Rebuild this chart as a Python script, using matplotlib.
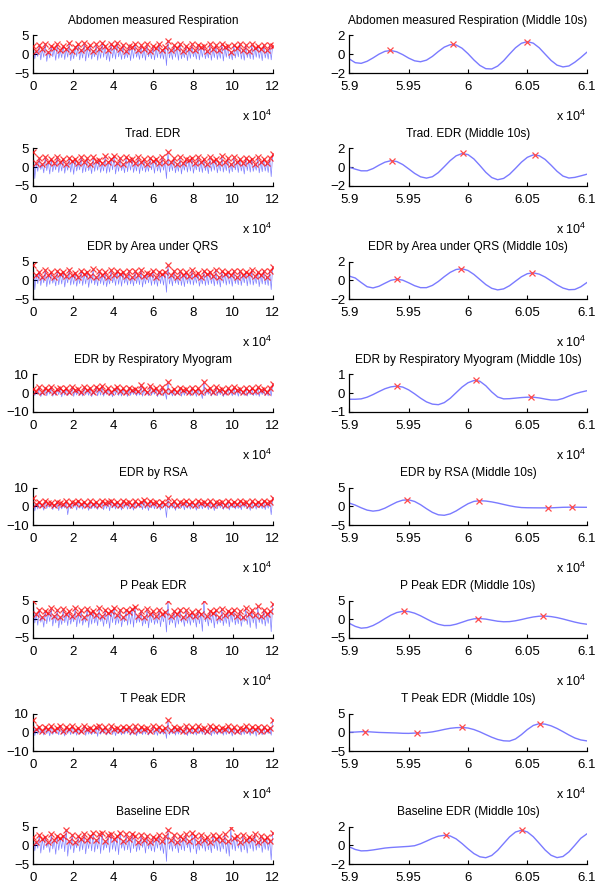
import numpy as np
import matplotlib
matplotlib.use("Agg")
import matplotlib.pyplot as plt

plt.rcParams['font.family'] = ['Liberation Sans', 'DejaVu Sans']

# ---------------- data ----------------
TITLES = ["Abdomen measured Respiration", "Trad. EDR", "EDR by Area under QRS",
          "EDR by Respiratory Myogram", "EDR by RSA", "P Peak EDR", "T Peak EDR",
          "Baseline EDR"]
YLIM_FULL = [5, 5, 5, 10, 10, 5, 10, 5]
YLIM_MID = [2, 2, 2, 1, 5, 5, 5, 2]
FULL_LEN = 120000
FULL_TICKS = [0, 20000, 40000, 60000, 80000, 100000, 120000]
FULL_TICKLABELS = ["0", "2", "4", "6", "8", "10", "12"]
MID_START, MID_END, MID_STEP = 59000, 61000, 50
MID_TICKS = [59000, 59500, 60000, 60500, 61000]
MID_TICKLABELS = ["5.9", "5.95", "6", "6.05", "6.1"]

# full recordings: detected peaks (red x) and troughs between them
ABD_PK = [2.2,0.9,2.5,1.3,2.8,0.7,2.1,1.6,2.6,1.0, 2.3,1.4,2.9,0.8,2.0,2.6,1.2,3.0,1.7,2.4,
          0.9,2.7,1.5,3.1,2.2,1.1,2.8,1.8,3.0,1.3, 2.5,0.8,2.3,1.9,2.7,1.0,2.4,1.5,2.6,0.9,
          2.2,1.6,2.8,1.2,2.0,3.6,1.1,2.4,1.7,2.7, 0.8,2.3,1.4,2.6,1.0,2.5,1.8,2.2,0.9,2.6,
          1.5,2.4,1.1,2.8,1.9,2.3,0.7,2.5,1.6,2.7, 1.2,2.4,0.9,2.6,1.7,2.2,1.3,2.5,1.0,2.4, 2.3]
ABD_TR = [-1.2,-0.6,-1.5,-0.8,-1.9,-1.0,-0.7,-1.6,-1.1,-0.9, -1.4,-0.8,-1.7,-1.2,-0.6,-1.5,-1.0,-1.8,-0.9,-1.3,
          -0.7,-1.6,-1.1,-0.8,-1.5,-1.9,-1.0,-1.3,-0.7,-1.4, -1.2,-0.9,-1.7,-1.1,-0.8,-1.4,-1.0,-1.6,-0.7,-1.2,
          -1.5,-0.9,-1.1,-1.3,-3.0,-1.0,-1.4,-0.8,-1.6,-1.2, -0.9,-1.7,-1.1,-0.7,-1.3,-1.5,-0.8,-1.2,-1.0,-1.6,
          -0.9,-1.4,-1.1,-1.8,-0.8,-1.2,-1.5,-1.0,-0.7,-1.3, -1.6,-0.9,-1.2,-1.4,-0.8,-1.1,-1.7,-1.0,-1.3,-1.5]
TRD_PK = [4.0,1.2,2.4,0.8,2.6,1.5,2.2,1.0,2.8,1.4, 2.3,0.9,2.5,1.7,2.1,1.1,2.7,1.3,2.4,0.8,
          2.6,1.6,2.0,1.0,2.9,1.4,2.2,3.0,1.2,2.5, 0.9,2.7,1.8,2.3,1.1,2.6,1.4,2.1,0.8,2.5,
          1.6,2.3,1.0,2.7,1.3,4.0,1.5,2.4,0.9,2.6, 1.2,2.2,1.8,2.5,1.0,2.8,1.4,2.3,0.8,2.6,
          1.7,2.1,1.1,2.9,1.3,2.4,0.9,2.6,1.5,2.2, 1.0,2.5,1.7,2.3,0.8,2.7,1.4,2.2,1.1,2.4, 3.5]
TRD_TR = [-3.0,-1.1,-0.6,-1.5,-0.9,-1.8,-1.2,-0.7,-1.4,-1.0, -1.6,-0.8,-1.3,-1.9,-1.0,-0.7,-1.5,-1.2,-0.9,-1.7,
          -1.1,-0.8,-1.4,-1.0,-1.6,-1.3,-0.7,-1.8,-1.1,-0.9, -1.5,-1.2,-0.8,-1.4,-1.0,-1.7,-0.9,-1.3,-1.1,-0.7,
          -1.6,-1.0,-1.4,-0.8,-3.0,-1.2,-0.9,-1.5,-1.1,-1.8, -0.8,-1.3,-1.0,-1.6,-0.7,-1.2,-1.4,-0.9,-1.7,-1.1,
          -0.8,-1.5,-1.0,-1.3,-0.9,-1.6,-1.2,-0.7,-1.4,-1.0, -1.8,-0.9,-1.3,-1.1,-0.8,-1.5,-1.2,-1.0,-1.4,-2.5]
QRS_PK = [4.2,1.5,2.3,1.0,2.7,1.3,2.1,0.8,2.5,1.7, 2.2,1.1,2.8,1.4,2.0,0.9,2.6,1.6,2.3,1.2,
          2.9,1.0,2.4,1.5,2.1,0.8,2.7,1.3,2.5,1.8, 2.2,1.1,2.6,0.9,2.4,1.4,2.8,1.2,2.0,1.6,
          2.5,1.0,2.3,1.7,2.1,4.0,1.3,2.6,0.9,2.4, 1.5,2.2,1.1,2.7,1.4,2.0,0.8,2.5,1.6,2.3,
          1.2,2.8,1.0,2.4,1.7,2.1,1.3,2.6,0.9,2.5, 1.4,2.2,1.8,2.7,1.1,2.3,1.5,2.6,1.0,2.4, 3.6]
QRS_TR = [-2.5,-0.9,-1.4,-0.7,-1.7,-1.1,-0.8,-1.5,-1.2,-1.0, -1.8,-0.7,-1.3,-1.1,-1.6,-0.9,-1.4,-1.0,-1.9,-0.8,
          -1.2,-1.5,-0.9,-1.3,-1.7,-1.0,-0.7,-1.4,-1.1,-1.6, -0.8,-1.3,-1.0,-1.5,-0.9,-1.2,-1.8,-1.0,-0.7,-1.4,
          -1.1,-1.6,-0.9,-1.3,-3.2,-1.0,-1.5,-0.8,-1.2,-1.4, -1.7,-0.9,-1.1,-1.3,-0.8,-1.6,-1.0,-1.4,-1.2,-0.9,
          -1.5,-1.1,-1.8,-0.8,-1.3,-1.0,-1.6,-0.9,-1.2,-1.4, -0.7,-1.5,-1.1,-1.3,-0.9,-1.7,-1.0,-1.2,-1.4,-2.5]
RM_PK = [2.5,1.0,3.2,0.4,2.8,1.6,3.5,0.8,2.2,3.0, 1.3,2.7,0.6,3.3,1.9,2.4,0.9,3.1,1.5,2.6,
         0.7,3.4,2.0,3.8,1.2,2.9,0.5,2.3,3.2,1.4, 2.7,0.8,3.0,1.8,2.5,1.1,4.4,2.2,0.9,4.0,
         1.6,2.8,0.6,3.1,1.4,6.0,1.0,2.4,0.5,2.9, 1.7,2.2,0.8,3.0,1.3,2.6,0.4,6.0,1.9,2.7,
         0.9,3.2,1.5,2.3,0.7,2.8,1.2,3.1,1.8,2.5, 0.6,3.0,1.4,2.7,1.0,3.3,1.6,2.4,0.8,2.9, 5.0]
RM_TR = [-1.2,-0.6,-1.8,-0.9,-1.4,-0.5,-1.6,-1.1,-0.7,-1.9, -1.0,-1.3,-0.6,-1.7,-0.9,-1.2,-1.5,-0.8,-1.1,-1.8,
         -0.7,-1.4,-1.0,-1.6,-0.6,-1.3,-1.9,-0.8,-1.2,-1.5, -0.9,-1.7,-1.1,-0.7,-1.4,-1.0,-1.6,-0.8,-1.3,-1.1,
         -0.6,-1.8,-1.0,-1.4,-3.2,-0.9,-1.5,-1.2,-0.7,-1.6, -1.1,-0.8,-1.4,-1.0,-1.7,-0.9,-2.8,-1.2,-0.6,-1.5,
         -1.0,-1.3,-0.8,-1.8,-1.1,-0.7,-1.4,-1.0,-1.6,-0.9, -1.2,-1.5,-0.8,-1.3,-1.1,-1.7,-0.7,-1.2,-1.4,-1.5]
RSA_PK = [4.6,1.2,2.3,0.6,2.8,1.5,2.0,0.9,2.5,1.8, 1.1,2.6,0.7,2.2,1.6,2.9,1.0,2.4,0.5,2.7,
          1.4,2.1,0.8,2.6,1.7,2.3,3.0,1.2,2.5,0.9, 2.8,1.5,2.2,0.6,2.7,1.3,2.4,3.1,1.0,2.6,
          1.8,2.3,0.7,2.5,1.4,4.3,1.1,2.7,0.8,2.4, 1.6,2.9,1.0,2.2,0.6,2.6,1.5,2.3,1.2,2.8,
          0.9,2.5,1.7,2.1,0.7,2.7,1.3,2.4,1.0,2.6, 1.8,2.2,0.8,2.9,1.4,2.5,1.1,3.0,1.6,2.3, 4.6]
RSA_TR = [-2.5,-1.5,-0.8,-2.1,-1.2,-0.6,-1.8,-1.0,-2.3,-1.4, -0.9,-4.5,-1.3,-0.7,-2.0,-1.1,-1.6,-0.8,-2.2,-1.3,
          -1.0,-1.7,-0.6,-1.9,-1.2,-2.4,-0.9,-1.5,-1.1,-2.0, -0.7,-1.6,-1.3,-2.1,-1.0,-0.8,-1.8,-1.2,-2.3,-0.9,
          -1.4,-1.1,-2.0,-0.7,-6.0,-1.5,-1.0,-2.2,-1.3,-0.8, -1.9,-1.1,-1.6,-0.9,-2.1,-1.2,-1.4,-0.7,-1.8,-1.0,
          -2.3,-1.3,-0.9,-1.7,-1.1,-2.0,-0.8,-1.5,-1.2,-1.9, -0.6,-1.4,-2.2,-1.0,-1.6,-0.9,-1.3,-1.8,-1.1,-4.5]
PP_PK = [5.0,1.4,2.6,0.7,2.2,1.8,2.9,1.0,2.4,0.6, 2.7,1.5,2.1,0.9,3.0,1.3,2.5,0.5,2.8,1.7,
         2.3,1.1,2.9,0.8,2.5,1.6,2.2,3.1,1.2,2.6, 0.7,2.4,1.9,2.8,3.2,1.0,2.3,0.6,2.7,1.4,
         2.1,0.9,2.5,1.3,2.0,4.9,0.8,2.2,1.5,2.6, 0.7,2.4,1.1,2.0,0.9,2.3,1.4,4.9,0.8,2.1,
         1.6,2.5,0.6,2.8,1.2,2.3,1.8,2.6,1.0,2.2, 0.7,2.9,1.5,2.4,1.1,3.5,0.9,2.5,1.3,2.2, 4.1]
PP_TR = [-1.0,-1.6,-0.8,-2.1,-1.2,-0.6,-1.8,-1.0,-2.3,-1.4, -0.9,-1.7,-1.3,-0.7,-2.0,-1.1,-1.6,-0.8,-2.2,-1.3,
         -1.0,-1.7,-0.6,-1.9,-1.2,-2.4,-0.9,-1.5,-1.1,-2.0, -0.7,-1.6,-1.3,-2.1,-1.0,-0.8,-1.8,-1.2,-2.3,-0.9,
         -1.4,-1.1,-2.0,-0.7,-3.4,-1.5,-1.0,-2.2,-1.3,-0.8, -1.9,-1.1,-1.6,-0.9,-2.1,-1.2,-3.2,-0.7,-1.8,-1.0,
         -2.3,-1.3,-0.9,-1.7,-1.1,-2.0,-0.8,-1.5,-1.2,-1.9, -0.6,-1.4,-2.2,-1.0,-2.5,-0.9,-1.3,-1.8,-1.1,-3.3]
TP_PK = [6.4,1.8,3.0,0.9,2.6,1.5,3.3,1.1,2.4,3.6, 0.8,2.8,1.7,3.1,1.2,2.5,0.7,3.4,1.9,2.2,
         1.0,2.9,3.5,1.4,2.7,0.8,3.2,1.6,2.4,1.1, 3.0,1.9,2.6,0.9,3.3,1.3,2.8,1.7,2.3,0.8,
         3.1,1.5,2.7,1.0,2.4,6.4,1.2,3.0,1.8,2.5, 0.9,3.4,1.4,2.6,1.1,3.2,1.7,2.3,0.8,3.6,
         1.5,2.8,1.0,2.5,1.9,3.1,1.2,2.7,0.9,2.4, 1.6,3.3,1.1,2.6,1.8,2.9,0.8,3.0,1.4,2.5, 6.4]
TP_TR = [-1.8,-1.0,-0.5,-1.5,-0.8,-1.9,-1.2,-0.6,-1.4,-1.0, -2.0,-0.7,-1.3,-0.9,-1.6,-1.1,-0.5,-1.7,-1.0,-1.3,
         -0.8,-2.2,-1.1,-0.6,-1.5,-0.9,-1.2,-1.8,-0.7,-1.4, -1.0,-0.6,-1.6,-1.1,-1.9,-0.8,-1.3,-1.0,-1.5,-0.7,
         -1.2,-1.7,-0.9,-1.1,-3.3,-1.4,-0.8,-1.6,-1.0,-0.6, -1.3,-1.8,-0.9,-1.2,-1.5,-0.7,-1.1,-1.4,-0.8,-1.9,
         -1.0,-1.3,-0.6,-1.6,-1.2,-0.9,-2.0,-1.1,-0.7,-1.5, -1.2,-0.8,-1.7,-1.0,-2.1,-0.9,-1.4,-1.1,-0.7,-1.6]
BL_PK = [2.2,1.0,2.7,1.6,2.3,0.8,2.9,1.4,2.5,1.9, 2.6,4.1,1.2,2.8,0.9,2.4,1.7,3.0,1.3,2.6,
         3.2,1.5,2.9,3.3,1.1,2.7,3.1,1.8,2.5,3.4, 1.2,2.9,1.6,3.1,2.4,1.0,2.8,1.5,2.6,0.8,
         2.3,1.7,2.7,1.1,2.4,4.1,1.4,2.8,0.9,2.5, 1.8,2.9,1.2,3.2,2.6,1.0,2.7,1.5,2.3,0.9,
         2.8,1.6,2.4,1.3,2.9,1.1,4.5,1.9,2.5,0.8, 2.7,1.4,2.3,1.7,2.9,1.0,2.6,1.5,2.2,1.2, 3.4]
BL_TR = [-1.5,-0.8,-2.1,-1.2,-0.6,-1.9,-1.0,-2.4,-1.3,-0.9, -1.7,-2.9,-1.1,-2.0,-0.7,-1.6,-1.2,-2.3,-0.9,-1.5,
         -1.8,-1.0,-2.2,-1.3,-0.7,-1.9,-1.1,-1.6,-2.5,-0.8, -1.4,-1.2,-2.0,-0.9,-1.7,-1.3,-0.6,-2.1,-1.0,-1.5,
         -1.8,-0.8,-1.4,-2.2,-4.3,-1.1,-1.6,-0.9,-2.0,-1.2, -1.5,-0.7,-1.9,-1.0,-2.3,-1.3,-0.8,-1.6,-1.2,-2.0,
         -0.9,-1.4,-1.7,-1.0,-2.2,-2.9,-1.1,-1.5,-0.8,-1.8, -1.2,-2.1,-0.9,-1.6,-1.3,-0.7,-1.9,-1.1,-1.4,-3.9]

# middle 10 s (one value every 50 samples from 59000 to 61000)
ABD_M = [-0.5,-0.9,-0.97,-0.75,-0.39,0.01,0.31,0.4,0.26,-0.04,-0.41,-0.7,-0.8,-0.63,-0.23,0.29,0.76,1.02,
         0.99,0.64,0.06,-0.61,-1.19,-1.54,-1.57,-1.26,-0.69,0.02,0.69,1.17,1.35,1.18,0.69,0.01,-0.66,-1.16,
         -1.35,-1.25,-0.85,-0.35,0.2]
TRD_M = [0.0,-0.2,-0.38,-0.38,-0.14,0.22,0.54,0.7,0.61,0.29,-0.17,-0.65,-1.02,-1.16,-1.01,-0.57,0.06,0.71,
         1.22,1.46,1.35,0.88,0.19,-0.54,-1.1,-1.33,-1.19,-0.75,-0.12,0.54,1.06,1.32,1.23,0.83,0.22,-0.43,
         -0.94,-1.15,-1.08,-0.92,-0.75]
QRS_M = [0.44,0.24,-0.24,-0.69,-0.82,-0.64,-0.32,-0.01,0.12,0.01,-0.27,-0.58,-0.79,-0.79,-0.55,-0.13,0.38,
         0.84,1.15,1.23,1.04,0.62,0.08,-0.46,-0.86,-1.03,-0.92,-0.58,-0.1,0.37,0.7,0.79,0.65,0.34,-0.07,
         -0.49,-0.83,-1.01,-0.98,-0.7,-0.26]
RM_M = [-0.32,-0.32,-0.3,-0.21,-0.07,0.09,0.24,0.34,0.38,0.33,0.18,-0.03,-0.26,-0.46,-0.58,-0.61,-0.5,-0.27,
        0.03,0.33,0.56,0.68,0.64,0.4,0.07,-0.2,-0.3,-0.29,-0.26,-0.23,-0.21,-0.21,-0.25,-0.31,-0.36,-0.36,
        -0.28,-0.15,-0.03,0.06,0.13]
RSA_M = [0.85,0.31,-0.41,-1.03,-1.3,-1.1,-0.51,0.31,1.1,1.62,1.71,1.28,0.42,-0.65,-1.63,-2.28,-2.41,-2.03,
         -1.25,-0.26,0.67,1.3,1.48,1.39,1.16,0.85,0.48,0.13,-0.16,-0.35,-0.4,-0.42,-0.43,-0.43,-0.42,-0.35,
         -0.28,-0.25,-0.25,-0.27,-0.28]
PP_M = [-1.1,-1.9,-2.38,-2.23,-1.67,-0.83,0.16,1.08,1.78,2.12,2.05,1.62,0.93,0.1,-0.71,-1.34,-1.68,-1.66,
        -1.32,-0.8,-0.26,0.11,0.19,0.04,-0.25,-0.53,-0.67,-0.63,-0.41,-0.08,0.29,0.61,0.81,0.84,0.71,0.44,
        0.07,-0.35,-0.76,-1.1,-1.32]
TP_M = [0.0,0.05,0.15,0.15,0.05,-0.05,-0.1,-0.15,-0.2,-0.28,-0.3,-0.22,-0.2,-0.1,0.1,0.4,0.75,1.05,1.22,
        1.27,1.13,0.72,0.11,-0.62,-1.33,-1.92,-2.28,-2.35,-1.79,-0.64,0.72,1.81,2.29,2.16,1.71,1.01,0.16,
        -0.73,-1.53,-2.05,-2.3]
BL_M = [-0.17,-0.45,-0.6,-0.58,-0.5,-0.4,-0.3,-0.24,-0.2,-0.16,-0.12,-0.05,0.16,0.44,0.73,0.96,1.06,0.99,
        0.68,0.18,-0.38,-0.89,-1.23,-1.33,-1.09,-0.54,0.18,0.89,1.41,1.6,1.42,0.91,0.21,-0.51,-1.07,-1.32,
        -1.2,-0.71,0.0,0.74,1.2]

# detected peaks in the middle 10 s (sample index, value)
ABD_MX, ABD_MY = [59345, 59871, 60501], [0.4, 1.05, 1.35]
TRD_MX, TRD_MY = [59359, 59961, 60563], [0.7, 1.47, 1.33]
QRS_MX, QRS_MY = [59401, 59941, 60541], [0.12, 1.23, 0.79]
RM_MX, RM_MY = [59401, 60067, 60529], [0.38, 0.69, -0.21]
RSA_MX, RSA_MY = [59485, 60092, 60675, 60879], [1.74, 1.48, -0.43, -0.26]
PP_MX, PP_MY = [59465, 60087, 60633], [2.14, 0.2, 0.85]
TP_MX, TP_MY = [59129, 59574, 59952, 60605], [0.17, -0.2, 1.27, 2.29]
BL_MX, BL_MY = [59812, 60451], [1.07, 1.6]

FULL_PK = [ABD_PK, TRD_PK, QRS_PK, RM_PK, RSA_PK, PP_PK, TP_PK, BL_PK]
FULL_TR = [ABD_TR, TRD_TR, QRS_TR, RM_TR, RSA_TR, PP_TR, TP_TR, BL_TR]
MID = [ABD_M, TRD_M, QRS_M, RM_M, RSA_M, PP_M, TP_M, BL_M]
MID_MX = [ABD_MX, TRD_MX, QRS_MX, RM_MX, RSA_MX, PP_MX, TP_MX, BL_MX]
MID_MY = [ABD_MY, TRD_MY, QRS_MY, RM_MY, RSA_MY, PP_MY, TP_MY, BL_MY]

# ---------------- drawing ----------------
W, H = 597, 888
fig = plt.figure(figsize=(W / 100, H / 100), dpi=100)

LX0, LX1 = 33.3, 272.7
RX0, RX1 = 349.3, 586.7
TOP0, PITCH, AH = 35.5, 113.0, 37.5
TICK_FS = 9.5
TITLE_FS = 8.6


def style(ax, lim, ticks, labels, xlim, show_exp):
    ax.set_xlim(*xlim)
    ax.set_ylim(-lim, lim)
    ax.set_yticks([-lim, 0, lim])
    ax.set_yticklabels([str(-lim).replace('-', '\u2212'), "0", str(lim)])
    ax.set_xticks(ticks)
    ax.set_xticklabels(labels)
    for s in ("top", "right"):
        ax.spines[s].set_visible(False)
    for s in ("left", "bottom"):
        ax.spines[s].set_linewidth(0.9)
    ax.tick_params(direction="in", length=3, width=0.8, labelsize=TICK_FS)
    ax.tick_params(axis="x", pad=6)
    ax.tick_params(axis="y", pad=3)
    if show_exp:
        ax.text(1.0, -1.15, r"x $\mathregular{10^{4}}$", transform=ax.transAxes,
                ha="right", va="center", fontsize=9)


for i in range(8):
    top = TOP0 + PITCH * i
    bottom = 1 - (top + AH) / H
    axL = fig.add_axes([LX0 / W, bottom, (LX1 - LX0) / W, AH / H])
    axR = fig.add_axes([RX0 / W, bottom, (RX1 - RX0) / W, AH / H])
    show_exp = i < 7  # the last row's exponent label falls below the figure

    pk, tr = FULL_PK[i], FULL_TR[i]
    assert len(tr) == len(pk) - 1, (i, len(pk), len(tr))
    y = np.empty(len(pk) + len(tr))
    y[0::2] = pk
    y[1::2] = tr
    x = np.linspace(0, FULL_LEN, len(y))
    axL.plot(x, y, color="blue", lw=0.5, alpha=0.5, zorder=2)
    axL.plot(x[0::2], pk, ls="none", marker="x", color="red", ms=4.5, mew=0.9,
             alpha=0.75, zorder=3)
    style(axL, YLIM_FULL[i], FULL_TICKS, FULL_TICKLABELS, (0, FULL_LEN), show_exp)
    axL.set_title(TITLES[i], fontsize=TITLE_FS, pad=8.5)

    ym = MID[i]
    xm = np.arange(MID_START, MID_END + 1, MID_STEP)
    assert len(xm) == len(ym), (i, len(ym))
    axR.plot(xm, ym, color="#7a7aff", lw=1.0, zorder=2)
    axR.plot(MID_MX[i], MID_MY[i], ls="none", marker="x", color="#ff4a4a",
             ms=5, mew=0.9, zorder=3)
    style(axR, YLIM_MID[i], MID_TICKS, MID_TICKLABELS, (MID_START, MID_END), show_exp)
    axR.set_title(TITLES[i] + " (Middle 10s)", fontsize=TITLE_FS, pad=8.5)

fig.savefig("out.png", dpi=100)
